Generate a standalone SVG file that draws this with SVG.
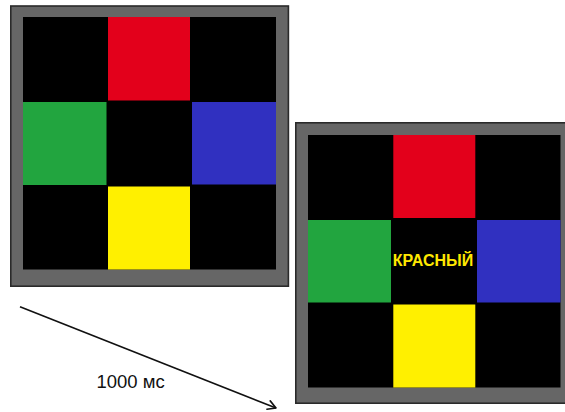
<svg xmlns="http://www.w3.org/2000/svg" width="565" height="412" viewBox="0 0 565 412">
  <style>
    .frame { fill: #666666; stroke: #2a2a2a; stroke-width: 1.6; }
    .field { fill: #000000; }
    .red { fill: #E3001B; }
    .green { fill: #22A53F; }
    .blue { fill: #3030C0; }
    .yellow { fill: #FFF000; }
    .word { font-family: "Liberation Sans", Arial, sans-serif; font-weight: bold; font-size: 16px; fill: #FFE800; }
    .label { font-family: "Liberation Sans", Arial, sans-serif; font-size: 18.5px; fill: #111111; }
    .arrow { fill: none; stroke: #111111; stroke-width: 1.6; }
  </style>
  <defs>
    <marker id="chevron" viewBox="0 0 12 12" refX="10" refY="6" markerWidth="12" markerHeight="12" markerUnits="userSpaceOnUse" orient="auto">
      <path d="M2,1.5 L10,6 L2,10.5" fill="none" stroke="#111111" stroke-width="1.6" stroke-linecap="round" stroke-linejoin="round"/>
    </marker>
  </defs>

  <rect width="565" height="412" fill="#ffffff"/>

  <!-- first screen: colour grid without a word -->
  <g id="screen-before">
    <rect class="frame" x="10.8" y="6" width="277.6" height="280.2"/>
    <rect class="field" x="23" y="17" width="253" height="252.5"/>
    <rect class="red" x="108" y="17" width="82" height="83.5"/>
    <rect class="green" x="23" y="102" width="83.5" height="83"/>
    <rect class="blue" x="192" y="102" width="84" height="82.5"/>
    <rect class="yellow" x="108" y="186.5" width="82" height="83"/>
  </g>

  <!-- second screen: colour grid with the word in the centre -->
  <g id="screen-after">
    <rect class="frame" x="295.8" y="122.8" width="280" height="280.4"/>
    <rect class="field" x="308" y="135" width="252.5" height="252.5"/>
    <rect class="red" x="393.3" y="135" width="82" height="83"/>
    <rect class="green" x="308" y="220" width="83" height="82.5"/>
    <rect class="blue" x="477" y="220" width="83.5" height="82.5"/>
    <rect class="yellow" x="393.3" y="304.5" width="82" height="83"/>
    <text class="word" x="433" y="265.5" text-anchor="middle">КРАСНЫЙ</text>
  </g>

  <!-- time step between the screens -->
  <g id="connectors">
    <line class="arrow" x1="20" y1="306.7" x2="276" y2="408" marker-end="url(#chevron)"/>
    <text class="label" x="96.5" y="388">1000 мс</text>
  </g>
</svg>
